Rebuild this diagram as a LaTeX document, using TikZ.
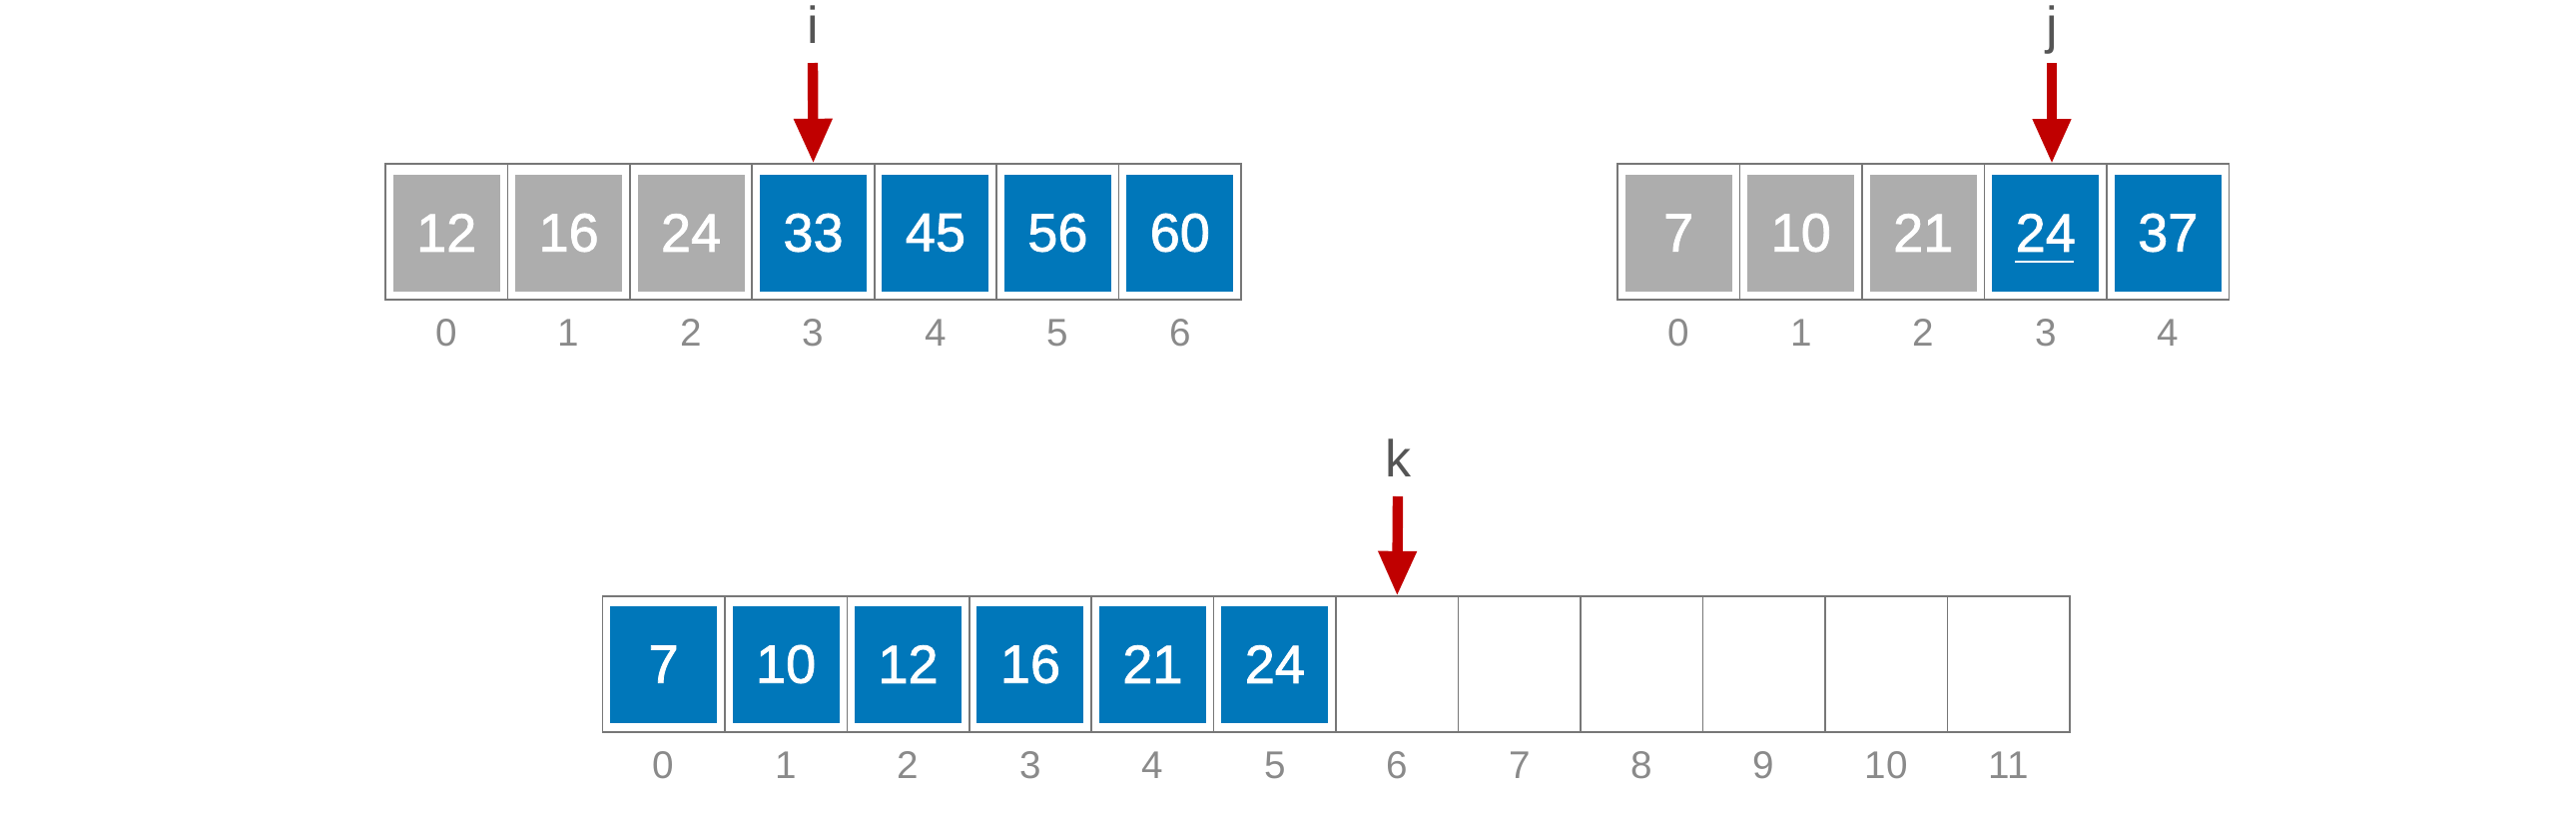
\documentclass[tikz,border=0pt]{standalone}
\usepackage{fontspec}
\setmainfont{Liberation Sans}
\newfontfamily\numfont[FakeBold=1.4]{Liberation Sans}
\usetikzlibrary{arrows.meta}
\definecolor{cblue}{HTML}{0077BA}
\definecolor{cgray}{HTML}{ADADAD}
\definecolor{cborder}{HTML}{777777}
\definecolor{cidx}{HTML}{8A8A8A}
\definecolor{cred}{HTML}{C00000}
\definecolor{clab}{HTML}{555555}
\tikzset{
  cellbox/.style={draw=cborder, line width=0.4mm, minimum width=30.61mm, minimum height=34.1mm, inner sep=0pt, outer sep=0pt},
  valbox/.style={minimum width=26.75mm, minimum height=29.25mm, inner sep=0pt, text=white, font=\numfont\fontsize{38.5}{40}\selectfont},
  bluebox/.style={valbox, fill=cblue},
  graybox/.style={valbox, fill=cgray},
  nobox/.style={inner sep=0pt},
  idx/.style={text=cidx, font=\fontsize{27.5}{30}\selectfont},
  ptrlab/.style={text=clab, font=\fontsize{37}{40}\selectfont, anchor=base},
  ptr/.style={draw=cred, line width=2.6mm, -{Triangle[length=11.25mm,width=9mm]}}
}
\begin{document}
\begin{tikzpicture}[x=0.25mm, y=-0.25mm]
\useasboundingbox (0,0) rectangle (2580,816);
% top-left array
\foreach \v/\s [count=\n from 0] in {12/graybox,16/graybox,24/graybox,33/bluebox,45/bluebox,56/bluebox,60/bluebox} {
  \node[cellbox] (a\n) at ({386+61.22+122.43*\n},232) {};
  \node[\s] (av\n) at ({386+61.22+122.43*\n},233) {\v};
  \node[idx] (ai\n) at ({386+61.22+122.43*\n},333) {\n};
}
\node[ptrlab] (ilab) at (814,43) {i};
\coordinate (ip) at (814,63);
\draw[ptr] (ip) -- (a3.north);
% top-right array
\foreach \v/\s [count=\n from 0] in {7/graybox,10/graybox,21/graybox,24/bluebox,37/bluebox} {
  \node[cellbox] (b\n) at ({1620+61.25+122.5*\n},232) {};
  \node[\s] (bv\n) at ({1620+61.25+122.5*\n},233) {\v};
  \node[idx] (bi\n) at ({1620+61.25+122.5*\n},333) {\n};
}
\draw[white, line width=0.7mm] (2018,262) -- (2077,262);
\node[ptrlab] (jlab) at (2055,43) {j};
\coordinate (jp) at (2055,63);
\coordinate (jt) at (2055,164);
\draw[ptr] (jp) -- (jt);
% bottom array
\foreach \v/\s [count=\n from 0] in {7/bluebox,10/bluebox,12/bluebox,16/bluebox,21/bluebox,24/bluebox,{}/nobox,{}/nobox,{}/nobox,{}/nobox,{}/nobox,{}/nobox} {
  \node[cellbox] (c\n) at ({603.4+61.22+122.45*\n},665) {};
  \node[\s] (cv\n) at ({603.4+61.22+122.45*\n},665) {\v};
  \node[idx] (ci\n) at ({603.4+61.22+122.45*\n},766) {\n};
}
\node[ptrlab] (klab) at (1400,477) {k};
\coordinate (kp) at (1400,497);
\draw[ptr] (kp) -- (c6.north);
\end{tikzpicture}
\end{document}
